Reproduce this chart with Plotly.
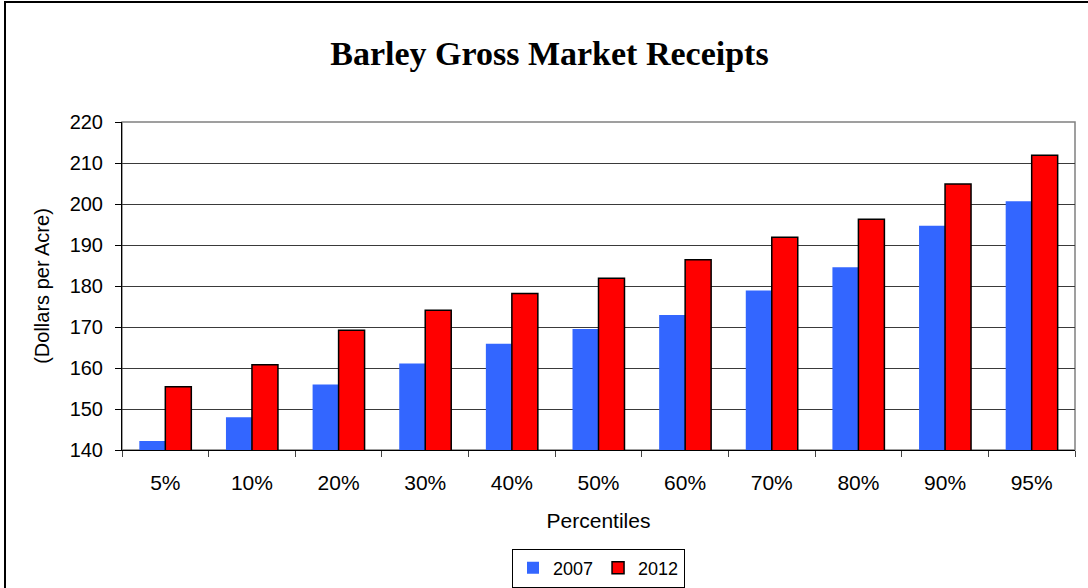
import plotly.graph_objects as go

categories = ["5%", "10%", "20%", "30%", "40%", "50%", "60%", "70%", "80%", "90%", "95%"]
values_2007 = [142.2, 148.0, 156.0, 161.1, 165.9, 169.5, 172.9, 178.9, 184.6, 194.7, 200.7]
values_2012 = [155.4, 160.8, 169.2, 174.1, 178.2, 181.9, 186.4, 191.9, 196.3, 204.9, 211.9]

W, H = 1088, 588
L, R, T, B = 122, 1075, 122, 450

def px(x):
    return (x - L) / (R - L)

def py(y):
    return (B - y) / (B - T)

fig = go.Figure()
fig.add_trace(go.Bar(name="2007", x=categories, y=values_2007,
                     marker=dict(color="#3366FF", line=dict(width=0))))
fig.add_trace(go.Bar(name="2012", x=categories, y=values_2012,
                     marker=dict(color="#FF0000", line=dict(color="black", width=1.5))))

fig.update_layout(
    width=W, height=H,
    margin=dict(l=L, r=W - R, t=T, b=H - B, autoexpand=False),
    paper_bgcolor="white", plot_bgcolor="white",
    barmode="group", bargap=0.4, bargroupgap=0,
    font=dict(family="Liberation Sans, Arial", size=20, color="black"),
    title=dict(text="<b>Barley Gross Market Receipts</b>",
               font=dict(family="Liberation Serif, Times New Roman", size=34, color="black"),
               x=0.505, xanchor="center", xref="container", y=1 - 53 / H, yanchor="middle"),
    showlegend=True,
    legend=dict(orientation="h", x=0.5, xanchor="center", y=py(568), yanchor="middle",
                bordercolor="black", borderwidth=1, bgcolor="white",
                font=dict(size=18), itemwidth=30, traceorder="normal",
                tracegroupgap=0),
    xaxis=dict(title=dict(text="Percentiles", font=dict(size=21), standoff=20),
               automargin=False,
               showline=True, linecolor="black", linewidth=1,
               ticks="outside", tickson="boundaries", ticklen=6, tickcolor="#444444",
               ticklabelstandoff=14,
               showgrid=False, tickfont=dict(size=21)),
    yaxis=dict(title=dict(text="(Dollars per Acre)", font=dict(size=20), standoff=14),
               automargin=False,
               range=[140, 220], dtick=10, tick0=140,
               showline=True, linecolor="black", linewidth=1,
               ticks="outside", ticklen=6, tickcolor="black",
               ticklabelstandoff=8,
               showgrid=True, gridcolor="#3a3a3a", gridwidth=1,
               tickfont=dict(size=20), zeroline=False),
)

# plot area border (gray) and outer chart border (black)
fig.add_shape(type="rect", xref="paper", yref="paper", x0=0, x1=1, y0=0, y1=1,
              line=dict(color="#808080", width=1.5), layer="below")
fig.add_shape(type="rect", xref="paper", yref="paper",
              x0=px(5), x1=px(1095), y0=py(600), y1=py(2),
              line=dict(color="black", width=2))

fig.write_html("out.html", config={"displayModeBar": False},
               post_script="document.body.style.margin='0';")
